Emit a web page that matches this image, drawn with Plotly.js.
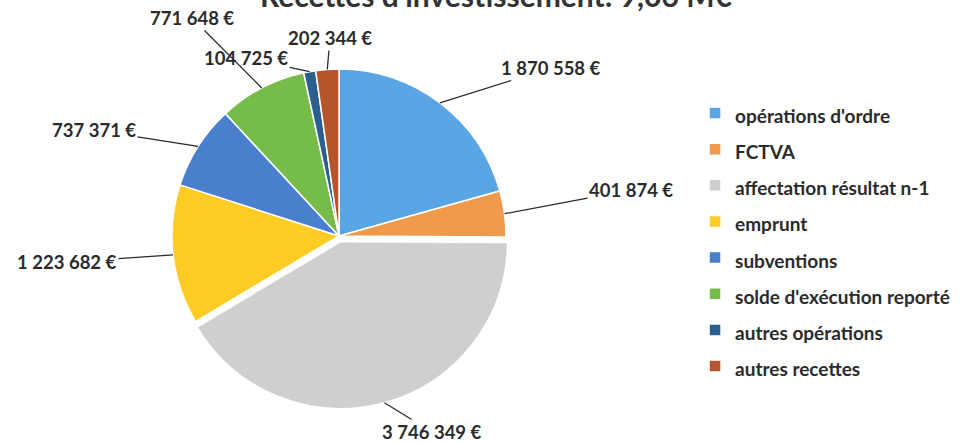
<!DOCTYPE html>
<html>
<head>
<meta charset="utf-8">
<script src="https://cdn.plot.ly/plotly-3.0.1.min.js"></script>
<style>html,body{margin:0;padding:0;background:#fff;}#chart{width:964px;height:443px;}</style>
</head>
<body>
<div id="chart"></div>
<script>
// ---- data ----
const categories = ["opérations d'ordre", "FCTVA", "affectation résultat n-1", "emprunt",
  "subventions", "solde d'exécution reporté", "autres opérations", "autres recettes"];
const amounts = [1870558, 401874, 3746349, 1223682, 737371, 771648, 104725, 202344];
const sliceColors = ["#5AA6E4", "#EF9A4A", "#CFCFCF", "#FFCB25", "#4A7FCE", "#76BC48", "#2A5F8E", "#B5552A"];
const pulls = [0, 0, 0.035, 0, 0, 0, 0, 0];
// label text centres (layout, pixels)
const labelPos = [[551, 68], [631, 190], [432, 432], [67, 262], [94, 130], [192, 18], [246, 58], [330, 38]];

const W = 964, H = 443;
const FONT = "Lato, 'Open Sans', sans-serif";
const fmt = v => String(v).replace(/\B(?=(\d{3})+(?!\d))/g, " ") + " €";
const total = amounts.reduce((a, b) => a + b, 0);

// pie domain (layout)
const cx = 339, cy = 236, R = 167;
const maxPull = Math.max(...pulls);
const half = R * (1 + maxPull);
const domX = [(cx - half) / W, (cx + half) / W];
const domY = [1 - (cy + half) / H, 1 - (cy - half) / H];

// annotations: leader lines from slice edge (data angles) to labels
const annotations = [];
let cum = 0;
amounts.forEach((v, i) => {
  const mid = (cum + v / 2) / total * 2 * Math.PI;
  cum += v;
  const rr = R * (1 + pulls[i]);
  const hx = cx + rr * Math.sin(mid), hy = cy - rr * Math.cos(mid);
  annotations.push({
    xref: "paper", yref: "paper",
    x: hx / W, y: 1 - hy / H,
    ax: labelPos[i][0] - hx, ay: labelPos[i][1] - hy,
    text: fmt(v), showarrow: true, arrowhead: 0, arrowwidth: 1.3, arrowcolor: "#2b2b2b",
    font: {family: FONT, size: 18.5, color: "#2b2b2b", weight: "bold"}
  });
});

// chart title (cut by the top edge, as in the source)
annotations.push({
  xref: "paper", yref: "paper", x: 496 / W, y: 1, xanchor: "center", yanchor: "middle", yshift: 5,
  showarrow: false,
  text: "<b>Recettes d'investissement: " + (total / 1e6).toFixed(2).replace(".", ",") + " M€</b>",
  font: {family: FONT, size: 30, color: "#333333"}
});

const trace = {
  type: "pie",
  labels: categories.map(c => '<span style="font-size:19px">' + c + '</span>'),
  values: amounts,
  sort: false,
  direction: "clockwise",
  rotation: 0,
  pull: pulls,
  textinfo: "none",
  hoverinfo: "none",
  marker: {colors: sliceColors, line: {color: "#ffffff", width: 1.5}},
  domain: {x: domX, y: domY}
};

const layout = {
  width: W, height: H,
  margin: {l: 0, r: 0, t: 0, b: 0},
  paper_bgcolor: "#ffffff",
  font: {family: FONT, color: "#2b2b2b"},
  showlegend: true,
  legend: {
    x: 0.721, xanchor: "left", y: 0.797, yanchor: "top",
    font: {family: FONT, size: 25.5, color: "#2b2b2b", weight: "bold"},
    itemwidth: 30, bgcolor: "rgba(0,0,0,0)"
  },
  annotations: annotations
};

Plotly.newPlot("chart", [trace], layout, {displayModeBar: false, staticPlot: true});
</script>
</body>
</html>
